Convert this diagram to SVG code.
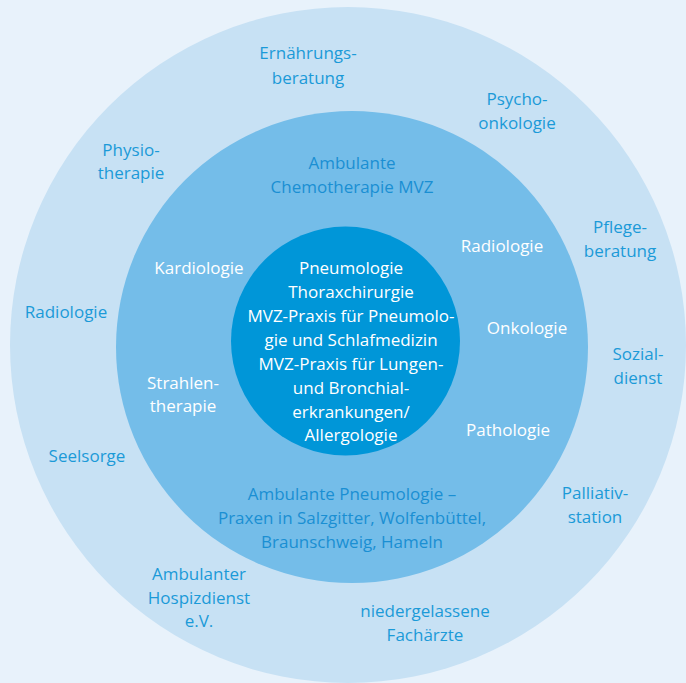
<svg xmlns="http://www.w3.org/2000/svg" width="686" height="683" viewBox="0 0 686 683">
<style>
text{font-family:"Open Sans","Liberation Sans",sans-serif;font-size:17px;text-anchor:middle}
.b{fill:#1b9ad8}
.w{fill:#ffffff}
.m{fill:#1a8fd3}
</style>
<rect width="686" height="683" fill="#e8f2fb"/>
<g id="rings">
<circle id="outer" cx="348" cy="345" r="338" fill="#c7e1f4"/>
<circle id="middle" cx="352" cy="347" r="236" fill="#74bde9"/>
<circle id="inner" cx="345.5" cy="341" r="114.5" fill="#0096d8"/>
</g>
<g id="center-node" class="w">
<text x="351" y="274">Pneumologie</text>
<text x="351" y="298">Thoraxchirurgie</text>
<text x="351" y="322">MVZ-Praxis für Pneumolo-</text>
<text x="351" y="346">gie und Schlafmedizin</text>
<text x="351" y="370">MVZ-Praxis für Lungen-</text>
<text x="351" y="394">und Bronchial-</text>
<text x="351" y="418">erkrankungen/</text>
<text x="351" y="441">Allergologie</text>
</g>
<g id="ambulante-chemo" class="m"><text x="352" y="169">Ambulante</text><text x="352" y="193">Chemotherapie MVZ</text></g>
<g id="radiologie-mid" class="w"><text x="502" y="252">Radiologie</text></g>
<g id="kardiologie" class="w"><text x="199" y="274">Kardiologie</text></g>
<g id="onkologie" class="w"><text x="527" y="334">Onkologie</text></g>
<g id="strahlentherapie" class="w"><text x="183" y="389">Strahlen-</text><text x="183" y="412">therapie</text></g>
<g id="pathologie" class="w"><text x="508" y="436">Pathologie</text></g>
<g id="ambulante-pneumo" class="m"><text x="352" y="500">Ambulante Pneumologie –</text><text x="352" y="524">Praxen in Salzgitter, Wolfenbüttel,</text><text x="352" y="548">Braunschweig, Hameln</text></g>
<g id="ernaehrung" class="b"><text x="308" y="59">Ernährungs-</text><text x="308" y="84">beratung</text></g>
<g id="psycho" class="b"><text x="517" y="105">Psycho-</text><text x="517" y="129">onkologie</text></g>
<g id="physio" class="b"><text x="131" y="156">Physio-</text><text x="131" y="179">therapie</text></g>
<g id="pflege" class="b"><text x="620" y="233">Pflege-</text><text x="620" y="257">beratung</text></g>
<g id="radiologie-outer" class="b"><text x="66" y="318">Radiologie</text></g>
<g id="sozial" class="b"><text x="638" y="360">Sozial-</text><text x="638" y="384">dienst</text></g>
<g id="seelsorge" class="b"><text x="87" y="462">Seelsorge</text></g>
<g id="palliativ" class="b"><text x="595" y="499">Palliativ-</text><text x="595" y="523">station</text></g>
<g id="hospiz" class="b"><text x="199" y="580">Ambulanter</text><text x="199" y="604">Hospizdienst</text><text x="199" y="627">e.V.</text></g>
<g id="fachaerzte" class="b"><text x="425" y="617">niedergelassene</text><text x="425" y="641">Fachärzte</text></g>
<g id="connectors"/>
</svg>
